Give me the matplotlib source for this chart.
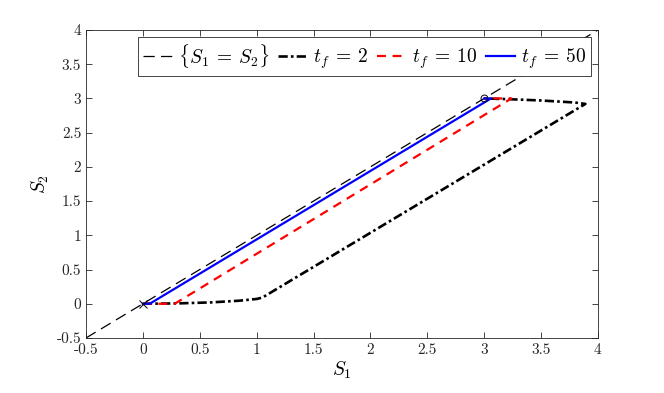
import matplotlib
matplotlib.use("Agg")
import matplotlib.pyplot as plt

# diagonal {S1 = S2}
diag_s1 = [-0.5, 4.0]
diag_s2 = [-0.5, 4.0]

# t_f = 2 trajectory
tf2_s1 = [0.0, 0.3, 0.6, 0.85, 1.0, 1.05, 3.89, 3.8, 3.5, 3.2, 3.0]
tf2_s2 = [0.0, 0.005, 0.02, 0.045, 0.07, 0.09, 2.92, 2.94, 2.97, 2.99, 3.0]

# t_f = 10 trajectory
tf10_s1 = [0.0, 0.28, 3.24, 3.0]
tf10_s2 = [0.0, 0.0, 3.0, 3.0]

# t_f = 50 trajectory
tf50_s1 = [0.0, 0.06, 3.06, 3.0]
tf50_s2 = [0.0, 0.0, 3.0, 3.0]

start_pt = (0.0, 0.0)
end_pt = (3.0, 3.0)

ticks = [-0.5, 0, 0.5, 1, 1.5, 2, 2.5, 3, 3.5, 4]
tick_labels = ["-0.5", "0", "0.5", "1", "1.5", "2", "2.5", "3", "3.5", "4"]

plt.rcParams["mathtext.fontset"] = "cm"
plt.rcParams["font.family"] = "serif"
plt.rcParams["font.serif"] = ["cmr10", "DejaVu Serif"]

fig = plt.figure(figsize=(6.64, 3.93), dpi=100)
ax = fig.add_axes([0.1295, 0.14, 0.771, 0.7837])

ax.plot(diag_s1, diag_s2, color="black", lw=0.9, linestyle=(0, (9, 5)),
        label=r"$\{S_1 \:=\: S_2\}$")
ax.plot(tf2_s1, tf2_s2, color="black", lw=1.9, linestyle=(0, (3.5, 1.2, 1, 1.2)),
        label=r"$t_f \:=\: 2$")
ax.plot(tf10_s1, tf10_s2, color="red", lw=1.6, linestyle=(0, (4, 3)),
        label=r"$t_f \:=\: 10$")
ax.plot(tf50_s1, tf50_s2, color="blue", lw=1.6, label=r"$t_f \:=\: 50$")
ax.plot(*start_pt, marker="x", color="black", ms=6, mew=0.7, ls="none")
ax.plot(*end_pt, marker="o", color="black", mfc="none", ms=5, mew=0.7, ls="none")

ax.set_xlim(-0.5, 4)
ax.set_ylim(-0.5, 4)
ax.set_xticks(ticks)
ax.set_xticklabels(tick_labels)
ax.set_yticks(ticks)
ax.set_yticklabels(tick_labels)
ax.tick_params(direction="in", top=True, right=True, labelsize=11,
               length=4, width=0.6, colors="#262626")
for sp in ax.spines.values():
    sp.set_linewidth(0.6)
    sp.set_color("#262626")

ax.set_xlabel(r"$S_1$", fontsize=14, labelpad=2)
ax.set_ylabel(r"$S_2$", fontsize=14, labelpad=4)

leg = ax.legend(loc="upper right", ncol=4, fontsize=14, frameon=True,
                fancybox=False, edgecolor="#262626", framealpha=1,
                handlelength=1.5, handletextpad=0.3, columnspacing=0.45,
                borderpad=0.25, borderaxespad=0.35)
leg.get_frame().set_linewidth(0.6)

fig.savefig("out.png", dpi=100, facecolor="white")
